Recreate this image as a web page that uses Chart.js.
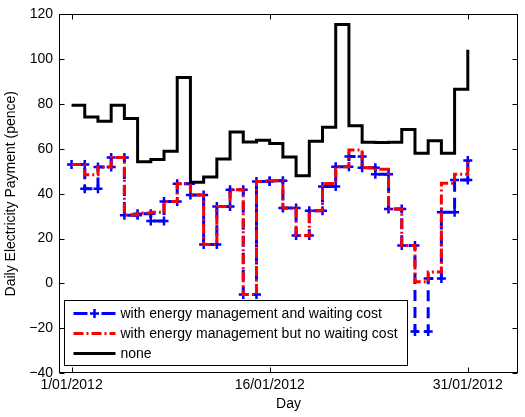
<!DOCTYPE html>
<html>
<head>
<meta charset="utf-8">
<script src="https://cdn.jsdelivr.net/npm/chart.js@4.4.1/dist/chart.umd.min.js"></script>
<style>
  html, body { margin: 0; padding: 0; background: #fff; }
</style>
</head>
<body>
<canvas id="chart" width="525" height="417"></canvas>
<script>
// ---- data ---------------------------------------------------------------
const days = [1, 2, 3, 4, 5, 6, 7, 8, 9, 10, 11, 12, 13, 14, 15, 16,
              17, 18, 19, 20, 21, 22, 23, 24, 25, 26, 27, 28, 29, 30, 31];

const withWaiting = [53.0, 42.2, 51.9, 56.2, 30.4, 31.1, 27.8, 36.5, 44.4, 39.4, 17.3,
                     34.3, 41.8, -5.0, 45.4, 45.8, 33.6, 21.3, 32.4, 43.2, 52.0,
                     56.6, 51.6, 48.7, 33.2, 16.9, -21.5, 2.2, 31.7, 46.1, 54.8];

const noWaiting   = [53.0, 48.4, 51.9, 56.2, 30.6, 31.4, 31.7, 36.5, 44.4, 39.4, 17.3,
                     34.3, 41.8, -5.0, 45.4, 45.8, 33.6, 21.3, 32.4, 44.5, 52.0,
                     59.5, 51.6, 50.9, 33.2, 16.9, 0.7, 5.1, 44.7, 48.7, 54.5];

const noManagement = [79.5, 74.2, 72.3, 79.5, 73.5, 54.3, 55.3, 58.9, 91.9, 45.1, 47.5,
                      55.5, 67.5, 63.1, 63.9, 62.4, 56.4, 48.0, 63.4, 69.6, 115.5,
                      70.3, 63.0, 62.8, 63.0, 68.6, 58.1, 63.6, 58.1, 86.6, 104.2];

const seriesNames = ['with energy management and waiting cost',
                     'with energy management but no waiting cost',
                     'none'];

const xTickDays   = [1, 16, 31];
const xTickLabels = ['1/01/2012', '16/01/2012', '31/01/2012'];
const yTicks      = [-40, -20, 0, 20, 40, 60, 80, 100, 120];

// ---- helpers --------------------------------------------------------------
const FONT = '"Liberation Sans", Arial, Helvetica, sans-serif';
const BLUE_DASH = [11, 6];
const RED_DASH  = [10, 3, 2, 3];

// old-style MATLAB stairs: every corner is a vertex (and gets a marker)
function stairs(vals) {
  const pts = [];
  vals.forEach((v, i) => {
    if (i > 0) pts.push({ x: days[i], y: vals[i - 1] });
    pts.push({ x: days[i], y: v });
  });
  return pts;
}

const fmtNum = v => (v < 0 ? '\u2212' + Math.abs(v) : String(v));

// box, inward ticks and the in-plot legend
const frame = {
  id: 'frame',
  afterDraw(chart) {
    const { ctx, chartArea: a, scales } = chart;
    const L = Math.round(a.left) + 0.5, R = Math.round(a.right) - 0.5;
    const T = Math.round(a.top) + 0.5,  B = Math.round(a.bottom) - 0.5;
    ctx.save();
    ctx.strokeStyle = '#000';
    ctx.lineWidth = 1;
    ctx.setLineDash([]);
    ctx.strokeRect(L, T, R - L, B - T);

    ctx.beginPath();
    yTicks.forEach(v => {
      const py = Math.round(scales.y.getPixelForValue(v)) + 0.5;
      ctx.moveTo(L, py); ctx.lineTo(L + 5, py);
      ctx.moveTo(R, py); ctx.lineTo(R - 5, py);
    });
    xTickDays.forEach(d => {
      const px = Math.round(scales.x.getPixelForValue(d)) + 0.5;
      ctx.moveTo(px, B); ctx.lineTo(px, B - 5);
      ctx.moveTo(px, T); ctx.lineTo(px, T + 5);
    });
    ctx.stroke();

    // legend
    const lx = L + 5, ly = B - 72, lw = 343, lh = 65;
    ctx.fillStyle = '#fff';
    ctx.fillRect(lx, ly, lw, lh);
    ctx.strokeRect(lx, ly, lw, lh);

    const styles = [
      { color: '#0000ff', dash: [14, 14], marker: true },
      { color: '#ff0000', dash: RED_DASH, marker: false },
      { color: '#000000', dash: [], marker: false }
    ];
    ctx.font = '14px ' + FONT;
    ctx.textBaseline = 'middle';
    ctx.textAlign = 'left';
    styles.forEach((s, i) => {
      const ry = ly + 13 + i * 20;
      ctx.strokeStyle = s.color;
      ctx.lineWidth = 3;
      ctx.setLineDash(s.dash);
      ctx.beginPath();
      ctx.moveTo(lx + 9, ry); ctx.lineTo(lx + 51, ry);
      ctx.stroke();
      ctx.setLineDash([]);
      if (s.marker) {
        ctx.lineWidth = 2.5;
        ctx.beginPath();
        ctx.moveTo(lx + 30 - 4.5, ry); ctx.lineTo(lx + 30 + 4.5, ry);
        ctx.moveTo(lx + 30, ry - 4.5); ctx.lineTo(lx + 30, ry + 4.5);
        ctx.stroke();
      }
      ctx.fillStyle = '#000';
      ctx.fillText(seriesNames[i], lx + 56, ry + 1);
    });
    ctx.restore();
  }
};

Chart.defaults.font.family = FONT;
Chart.defaults.font.size = 14;
Chart.defaults.color = '#000';

new Chart(document.getElementById('chart'), {
  type: 'line',
  data: {
    datasets: [
      { // drawn last -> on top
        label: seriesNames[2],
        data: stairs(noManagement),
        borderColor: '#000',
        borderWidth: 3,
        pointRadius: 0,
        tension: 0
      },
      {
        label: seriesNames[1],
        data: stairs(noWaiting),
        borderColor: '#ff0000',
        borderWidth: 3,
        borderDash: RED_DASH,
        pointRadius: 0,
        tension: 0
      },
      {
        label: seriesNames[0],
        data: stairs(withWaiting),
        borderColor: '#0000ff',
        borderWidth: 3,
        borderDash: BLUE_DASH,
        pointStyle: 'cross',
        pointRadius: 4.5,
        pointBorderWidth: 2.5,
        pointBorderColor: '#0000ff',
        pointBackgroundColor: '#0000ff',
        tension: 0
      }
    ]
  },
  options: {
    responsive: false,
    animation: false,
    events: [],
    layout: { padding: { top: 4, right: 1, left: 0, bottom: 0 } },
    plugins: {
      legend: { display: false },
      tooltip: { enabled: false }
    },
    scales: {
      x: {
        type: 'linear',
        min: 0.05,
        max: 34.8,
        afterBuildTicks: s => { s.ticks = xTickDays.map(v => ({ value: v })); },
        afterFit: s => { s.height = 44; },
        grid: { display: false, drawTicks: false },
        border: { display: false },
        ticks: {
          padding: 4,
          maxRotation: 0,
          autoSkip: false,
          callback: v => xTickLabels[xTickDays.indexOf(v)]
        },
        title: { display: true, text: 'Day', padding: { top: 0, bottom: 4 } }
      },
      y: {
        min: -40,
        max: 120,
        afterBuildTicks: s => { s.ticks = yTicks.map(v => ({ value: v })); },
        afterFit: s => { s.width = 59; },
        grid: { display: false, drawTicks: false },
        border: { display: false },
        ticks: { padding: 6, callback: v => fmtNum(v) },
        title: {
          display: true,
          text: 'Daily Electricity Payment (pence)',
          padding: { top: 3, bottom: 0 }
        }
      }
    }
  },
  plugins: [frame]
});
</script>
</body>
</html>
